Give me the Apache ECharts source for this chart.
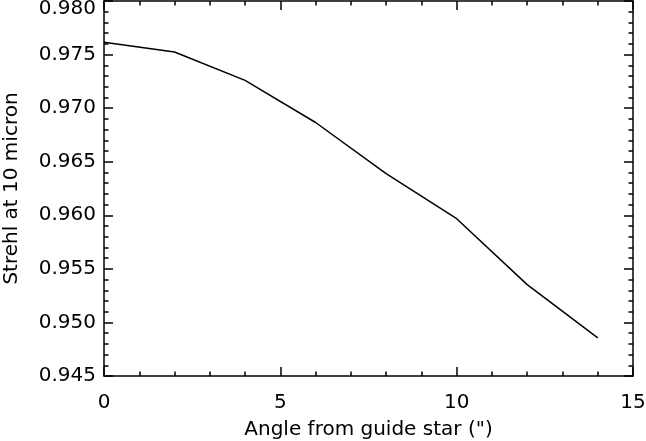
<!DOCTYPE html>
<html>
<head>
<meta charset="utf-8">
<script src="https://cdn.jsdelivr.net/npm/echarts@6/dist/echarts.min.js"></script>
<style>
html,body{margin:0;padding:0;background:#fff;}
#chart{width:646px;height:441px;}
</style>
</head>
<body>
<div id="chart"></div>
<script>
var angles = [0, 2, 4, 6, 8, 10, 12, 14];
var strehl = [0.97615, 0.97524, 0.97259, 0.96866, 0.96389, 0.95968, 0.95353, 0.94855];
var xTitle = 'Angle from guide star (")';
var yTitle = 'Strehl at 10 micron';

var FONT = 'DejaVu Sans';
var FS = 20;
var chart = echarts.init(document.getElementById('chart'), null, {renderer: 'canvas'});
var axisLine = {show: true, onZero: false, lineStyle: {color: '#000', width: 1.5}};
var tickIn = {show: true, inside: true, length: 9, lineStyle: {color: '#000', width: 1.5}};
var minorIn = {show: true, splitNumber: 5, length: 4.5, lineStyle: {color: '#000', width: 1.5}};
var pairs = angles.map(function (a, i) { return [a, strehl[i]]; });

chart.setOption({
  animation: false,
  backgroundColor: '#fff',
  grid: {left: 104, right: 13, top: 1, bottom: 65, containLabel: false, outerBoundsMode: 'none'},
  xAxis: [{
    type: 'value', min: 0, max: 15, interval: 5, position: 'bottom',
    axisLine: axisLine, axisTick: tickIn, minorTick: minorIn, splitLine: {show: false},
    axisLabel: {margin: 17, color: '#000', fontFamily: FONT, fontSize: FS,
      formatter: function (v) { return String(v); }},
    name: xTitle, nameLocation: 'middle', nameGap: 44,
    nameTextStyle: {color: '#000', fontFamily: FONT, fontSize: FS}
  }, {
    type: 'value', min: 0, max: 15, interval: 5, position: 'top',
    axisLine: axisLine, axisTick: tickIn, minorTick: minorIn, splitLine: {show: false},
    axisLabel: {show: false}
  }],
  yAxis: [{
    type: 'value', min: 0.945, max: 0.980, interval: 0.005, position: 'left',
    axisLine: axisLine, axisTick: tickIn, minorTick: minorIn, splitLine: {show: false},
    axisLabel: {margin: 8, color: '#000', fontFamily: FONT, fontSize: FS,
      formatter: function (v) {
        var s = v.toFixed(3);
        return Math.abs(v - 0.98) < 1e-9 ? '{t|' + s + '}' : s;
      },
      rich: {t: {fontFamily: FONT, fontSize: FS, color: '#000', padding: [16, 0, 0, 0]}}
    },
    name: yTitle, nameLocation: 'middle', nameGap: 82,
    nameTextStyle: {color: '#000', fontFamily: FONT, fontSize: FS}
  }, {
    type: 'value', min: 0.945, max: 0.980, interval: 0.005, position: 'right',
    axisLine: axisLine, axisTick: tickIn, minorTick: minorIn, splitLine: {show: false},
    axisLabel: {show: false}
  }],
  series: [{
    type: 'line', data: pairs, xAxisIndex: 0, yAxisIndex: 0,
    showSymbol: false, symbol: 'none', smooth: false,
    lineStyle: {color: '#000', width: 1.5}
  }]
});
</script>
</body>
</html>
